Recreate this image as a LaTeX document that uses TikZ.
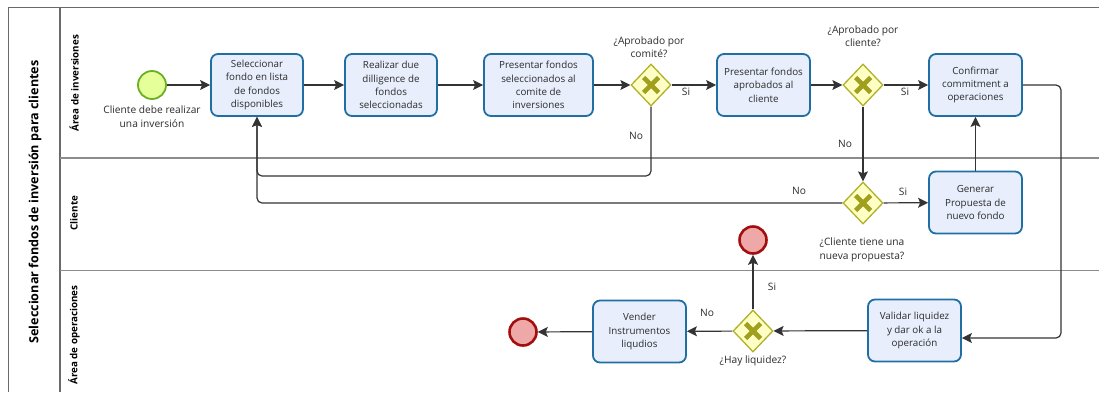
\documentclass[tikz,border=0pt]{standalone}
\usepackage{fontspec}
\setmainfont{Open Sans}
\usetikzlibrary{shapes.geometric,arrows.meta}
\definecolor{txt}{HTML}{2B2B2B}
\definecolor{taskfill}{HTML}{E8EEFC}
\definecolor{taskdraw}{HTML}{1F6FA3}
\definecolor{gwfill}{HTML}{FFFFC5}
\definecolor{gwdraw}{HTML}{B0B02A}
\definecolor{gwx}{HTML}{A0A01E}
\definecolor{endfill}{HTML}{EEA8A8}
\definecolor{enddraw}{HTML}{A30F0F}
\definecolor{startfill}{HTML}{E5FF99}
\definecolor{startdraw}{HTML}{6BAF25}
\definecolor{poolline}{HTML}{6A6A6A}
\definecolor{laneline}{HTML}{8C8C8C}
\definecolor{flowline}{HTML}{333333}
\tikzset{
  task/.style={draw=taskdraw, fill=taskfill, line width=1.8pt, rounded corners=7pt,
    minimum width=92pt, minimum height=62pt, inner sep=2pt, align=center,
    text=txt, font=\fontsize{9.8}{13.3}\selectfont},
  gateway/.style={diamond, draw=gwdraw, fill=gwfill, line width=1.3pt,
    minimum width=40pt, minimum height=42pt, inner sep=0pt,
    path picture={
      \draw[gwx, line width=4.6pt]
        ([shift={(-7.5pt,-7.5pt)}]path picture bounding box.center) --
        ([shift={(7.5pt,7.5pt)}]path picture bounding box.center);
      \draw[gwx, line width=4.6pt]
        ([shift={(-7.5pt,7.5pt)}]path picture bounding box.center) --
        ([shift={(7.5pt,-7.5pt)}]path picture bounding box.center);}},
  startev/.style={circle, draw=startdraw, fill=startfill, line width=1.8pt,
    minimum size=28pt, inner sep=0pt},
  endev/.style={circle, draw=enddraw, fill=endfill, line width=2.6pt,
    minimum size=27pt, inner sep=0pt},
  lbl/.style={text=txt, align=center, inner sep=0pt,
    font=\fontsize{10.2}{13.5}\selectfont},
  flow/.style={draw=flowline, line width=1.2pt, rounded corners=5pt,
    -{Stealth[length=10pt,width=10pt,inset=2pt]}},
  lanetitle/.style={rotate=90, text=black, inner sep=0pt,
    font=\fontsize{9.8}{11}\selectfont\bfseries},
  pooltitle/.style={rotate=90, text=black, inner sep=0pt,
    font=\fontsize{12.6}{14}\selectfont\bfseries},
}
\begin{document}
\begin{tikzpicture}[x=1pt,y=-1pt]
\useasboundingbox (0,0) rectangle (1099,392);

% pool frame and lanes
\draw[poolline, line width=1.5pt] (1099,7.5) -- (8.5,7.5) -- (8.5,392);
\draw[poolline, line width=1.3pt] (60,7.5) -- (60,392);
\draw[laneline, line width=1.6pt] (60,158) -- (1099,158);
\draw[laneline, line width=1.6pt] (60,270.5) -- (1099,270.5);

\node[pooltitle] (pool) at (35,202) {Seleccionar fondos de inversión para clientes};
\node[lanetitle] (laneA) at (74,83) {Área de inversiones};
\node[lanetitle] (laneB) at (74,213) {Cliente};
\node[lanetitle] (laneC) at (74,335) {Área de operaciones};

% events
\node[startev] (start) at (152,85) {};
\node[lbl] (startlbl) at (152,116.5) {Cliente debe realizar\\una inversión};
\node[endev] (endA) at (753,240) {};
\node[endev] (endB) at (523,332) {};

% tasks
\node[task] (t1) at (257,85) {Seleccionar\\fondo en lista\\de fondos\\disponibles};
\node[task] (t2) at (391,85) {Realizar due\\dilligence de\\fondos\\seleccionadas};
\node[task, minimum width=109pt] (t3) at (538.5,85) {Presentar fondos\\seleccionados al\\comite de\\inversiones};
\node[task, minimum width=93pt] (t4) at (763.5,85) {Presentar fondos\\aprobados al\\cliente};
\node[task, minimum width=93pt] (t5) at (975.5,85) {Confirmar\\commitment a\\operaciones};
\node[task, minimum width=93pt] (t6) at (975.5,202.5) {Generar\\Propuesta de\\nuevo fondo};
\node[task, minimum width=93pt] (t7) at (914.5,330.5) {Validar liquidez\\y dar ok a la\\operación};
\node[task, minimum width=93pt] (t8) at (639.5,331.5) {Vender\\Instrumentos\\liqudios};

% gateways
\node[gateway] (g1) at (651,85) {};
\node[gateway] (g2) at (863,85) {};
\node[gateway] (g3) at (863,203) {};
\node[gateway] (g4) at (753,331) {};
\node[lbl] (g1lbl) at (649,47) {¿Aprobado por\\comité?};
\node[lbl] (g2lbl) at (863,36) {¿Aprobado por\\cliente?};
\node[lbl] (g3lbl) at (862,250) {¿Cliente tiene una\\nueva propuesta?};
\node[lbl] (g4lbl) at (753,361) {¿Hay liquidez?};

% routing points
\coordinate (backA) at (257,176);
\coordinate (loopR) at (1061,338);

% sequence flows
\draw[flow] (start) -- (t1);
\draw[flow] (t1) -- (t2);
\draw[flow] (t2) -- (t3);
\draw[flow] (t3) -- (g1);
\draw[flow] (g1) -- (t4);
\draw[flow] (g1.south) |- (backA) -- (t1.south);
\draw[flow] (t4) -- (g2);
\draw[flow] (g2) -- (t5);
\draw[flow] (g2) -- (g3);
\draw[flow] (g3) -- (t6);
\draw[flow] (g3.west) -| (t1.south);
\draw[flow] (t6) -- (t5);
\draw[flow] (t5.east) -| (loopR) -- (t7.east |- loopR);
\draw[flow] (t7) -- (g4);
\draw[flow] (g4) -- (t8);
\draw[flow] (g4) -- (endA);
\draw[flow] (t8) -- (endB);

% flow labels
\node[lbl] (s1) at (686,92) {Si};
\node[lbl] (n1) at (636,136) {No};
\node[lbl] (s2) at (905,92) {Si};
\node[lbl] (n2) at (845,144) {No};
\node[lbl] (n3) at (799,191) {No};
\node[lbl] (s3) at (903,192) {Si};
\node[lbl] (n4) at (707,313) {No};
\node[lbl] (s4) at (772,287) {Si};
\end{tikzpicture}
\end{document}
